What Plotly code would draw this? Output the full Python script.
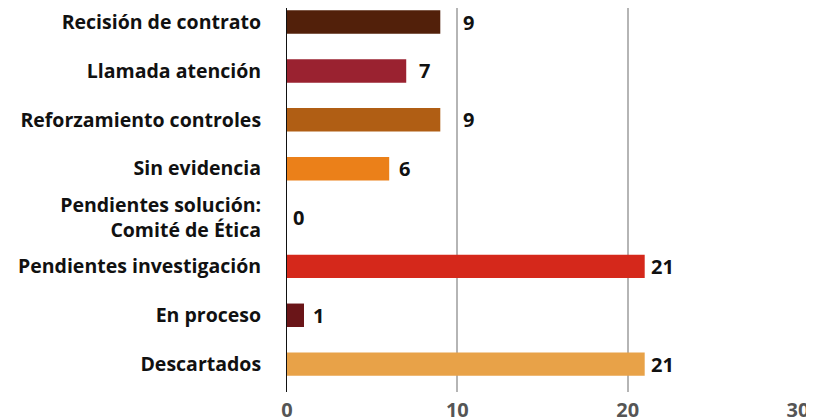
import plotly.graph_objects as go

categories = [
    "Recisión de contrato",
    "Llamada atención",
    "Reforzamiento controles",
    "Sin evidencia",
    "Pendientes solución:<br>Comité de Ética",
    "Pendientes investigación",
    "En proceso",
    "Descartados",
]
values = [9, 7, 9, 6, 0, 21, 1, 21]
colors = ["#52200A", "#9A2230", "#B05E14", "#EB8019", "#CCCCCC",
          "#D5281B", "#6A1518", "#E8A248"]
x_ticks = [0, 10, 20, 30]
# horizontal gap (px) between bar end and its value label
label_gap = [21, 11, 21, 8, 4, 4, 7, 4]

fig = go.Figure(go.Bar(
    y=categories,
    x=values,
    orientation="h",
    marker=dict(color=colors, line=dict(width=0)),
    width=0.48,
    hoverinfo="x+y",
))

for cat, v, g in zip(categories, values, label_gap):
    fig.add_annotation(
        x=v, y=cat, text=str(v), showarrow=False,
        xanchor="left", yanchor="middle", xshift=g,
        font=dict(family="Open Sans", size=20, color="#111111", weight="bold"),
    )

fig.update_layout(
    width=806, height=410,
    margin=dict(l=279, r=16, t=0, b=26),
    paper_bgcolor="white", plot_bgcolor="white",
    showlegend=False,
    font=dict(family="Open Sans", color="#111111"),
)
fig.update_xaxes(
    range=[0, 30], tickvals=x_ticks, showgrid=True, gridcolor="#B5B5B5", gridwidth=1.5,
    zeroline=False, showline=False, automargin=False,
    tickfont=dict(family="Open Sans", size=20, color="#555555", weight="bold"),
    ticklabelstandoff=4, ticklabeloverflow="allow",
)
fig.update_yaxes(
    type="category", range=[7.57, -0.287], automargin=False,
    showline=True, linecolor="#111111", linewidth=1,
    showgrid=False, ticks="",
    tickfont=dict(family="Open Sans", size=19.5, color="#111111", weight="bold"),
    ticklabelstandoff=21,
)

fig.write_html("out.html")
